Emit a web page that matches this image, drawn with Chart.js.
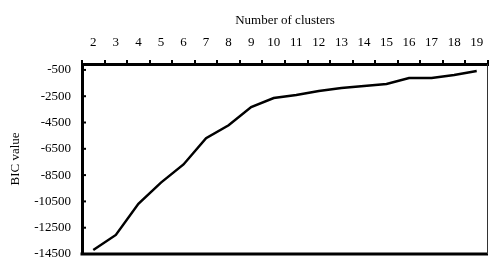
<!DOCTYPE html>
<html>
<head>
<meta charset="utf-8">
<script src="https://cdn.jsdelivr.net/npm/chart.js@4"></script>
<style>
  html, body { margin: 0; padding: 0; background: #fff; }
  #wrap { width: 489px; height: 259px; position: relative; }
</style>
</head>
<body>
<div id="wrap"><canvas id="chart"></canvas></div>
<script>
// ── DATA ──
const clusters = ['2','3','4','5','6','7','8','9','10','11','12','13','14','15','16','17','18','19']
const bicValues = [-14200, -13050, -10680, -9070, -7690, -5700, -4710, -3330, -2640, -2410, -2100, -1880, -1720, -1570, -1110, -1110, -880, -580]
const yTicks = [-500, -2500, -4500, -6500, -8500, -10500, -12500, -14500]

const serif = 'Liberation Serif, Times New Roman, serif'

// frame: thick bottom edge, thin right edge, inward ticks on the left axis
const frame = {
  id: 'frame',
  afterDraw(chart) {
    const { ctx, chartArea: a } = chart
    const y = chart.scales.y
    ctx.save()
    ctx.strokeStyle = '#000'
    ctx.lineWidth = 3
    ctx.beginPath()
    ctx.moveTo(a.left - 1.5, a.bottom)
    ctx.lineTo(a.right, a.bottom)
    ctx.stroke()
    ctx.strokeStyle = '#333'
    ctx.lineWidth = 1
    ctx.beginPath()
    ctx.moveTo(a.right - 0.5, a.top)
    ctx.lineTo(a.right - 0.5, a.bottom)
    ctx.stroke()
    ctx.strokeStyle = '#000'
    ctx.lineWidth = 2
    yTicks.forEach(v => {
      const py = y.getPixelForValue(v)
      ctx.beginPath()
      ctx.moveTo(a.left, py)
      ctx.lineTo(a.left + 4, py)
      ctx.stroke()
    })
    ctx.restore()
  }
}

new Chart(document.getElementById('chart'), {
  type: 'line',
  data: {
    labels: clusters,
    datasets: [{
      data: bicValues,
      borderColor: '#000',
      borderWidth: 2.5,
      pointRadius: 0,
      tension: 0,
      fill: false
    }]
  },
  options: {
    responsive: true,
    maintainAspectRatio: false,
    animation: false,
    layout: { autoPadding: false, padding: { left: 0, right: 1, top: 0, bottom: 5 } },
    plugins: { legend: { display: false }, tooltip: { enabled: false } },
    scales: {
      x: {
        position: 'top',
        offset: true,
        grid: { display: true, offset: true, drawOnChartArea: false, tickLength: 4, color: '#000', lineWidth: 2 },
        border: { display: true, color: '#000', width: 3 },
        ticks: { color: '#000', font: { family: serif, size: 13 }, padding: 10, maxRotation: 0, autoSkip: false },
        title: { display: true, text: 'Number of clusters', color: '#000', font: { family: serif, size: 13 }, padding: { top: 13, bottom: 4 } },
        afterFit: s => { s.height = 64; s.paddingLeft = 0; s.paddingRight = 0 }
      },
      y: {
        min: -14500,
        max: -50,
        afterBuildTicks: s => { s.ticks = yTicks.map(v => ({ value: v })) },
        grid: { display: false },
        border: { display: true, color: '#000', width: 3 },
        ticks: { color: '#000', font: { family: serif, size: 13 }, padding: 3, callback: v => String(v) },
        title: { display: true, text: 'BIC value', color: '#000', font: { family: serif, size: 13 }, padding: { top: 8, bottom: 0 } },
        afterFit: s => { s.width = 82; s.paddingTop = 0; s.paddingBottom = 0 }
      }
    }
  },
  plugins: [frame]
})
</script>
</body>
</html>
